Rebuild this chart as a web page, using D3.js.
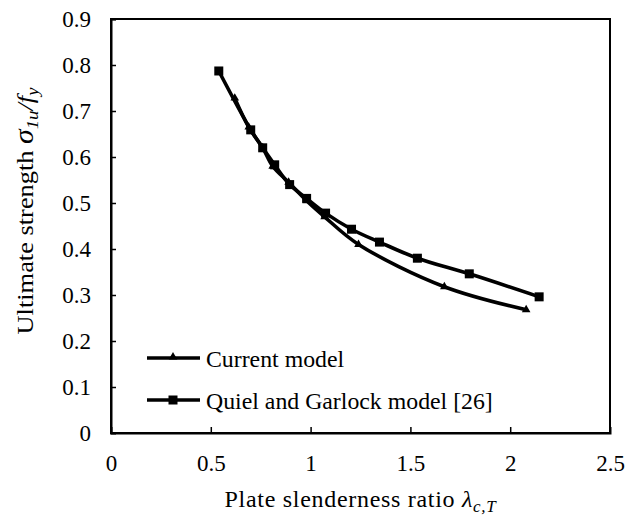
<!DOCTYPE html>
<html>
<head>
<meta charset="utf-8">
<script src="https://cdn.jsdelivr.net/npm/d3@7"></script>
<style>
  body { margin: 0; background: #fff; }
  text { font-family: "Liberation Serif", "Times New Roman", serif; fill: #000; }
</style>
</head>
<body>
<svg id="chart" width="629" height="515"></svg>
<script>
// Axis ticks
const xTicks = [0, 0.5, 1, 1.5, 2, 2.5];
const yTicks = [0, 0.1, 0.2, 0.3, 0.4, 0.5, 0.6, 0.7, 0.8, 0.9];

// Current model (triangles)
const currentX = [0.62, 0.69, 0.76, 0.81, 0.89, 0.98, 1.07, 1.24, 1.67, 2.08];
const currentY = [0.728, 0.665, 0.62, 0.58, 0.545, 0.505, 0.47, 0.41, 0.318, 0.268];

// Quiel and Garlock model [26] (squares)
const quielX = [0.54, 0.70, 0.76, 0.82, 0.895, 0.98, 1.075, 1.205, 1.345, 1.535, 1.795, 2.145];
const quielY = [0.787, 0.659, 0.62, 0.583, 0.54, 0.51, 0.478, 0.443, 0.415, 0.38, 0.346, 0.296];

const seriesNames = ["Current model", "Quiel and Garlock model [26]"];

const svg = d3.select("#chart");
const plotL = 111, plotR = 610, plotT = 19, plotB = 433;

const x = d3.scaleLinear().domain([0, 2.5]).range([plotL, plotR]);
const y = d3.scaleLinear().domain([0, 0.9]).range([plotB, plotT]);

// Plot frame
svg.append("rect")
  .attr("x", plotL).attr("y", plotT)
  .attr("width", plotR - plotL).attr("height", plotB - plotT)
  .attr("fill", "none").attr("stroke", "#000").attr("stroke-width", 2);

// Axes with inward ticks
const xAxis = svg.append("g").attr("transform", `translate(0,${plotB})`)
  .call(d3.axisBottom(x).tickValues(xTicks).tickSize(-6).tickPadding(20)
    .tickFormat(d => d3.format("")(d)));
const yAxis = svg.append("g").attr("transform", `translate(${plotL},0)`)
  .call(d3.axisLeft(y).tickValues(yTicks).tickSize(-5).tickPadding(20)
    .tickFormat(d => d3.format("")(d)));

[xAxis, yAxis].forEach(g => {
  g.attr("font-family", null).attr("font-size", null);
  g.select(".domain").attr("stroke-width", 2);
  g.selectAll(".tick line").attr("stroke", "#000").attr("stroke-width", 1.5);
  g.selectAll(".tick text").style("font-size", "23px").attr("fill", "#000");
});
xAxis.selectAll(".tick text").attr("dy", "0.71em").attr("y", 22);
yAxis.selectAll(".tick text").attr("x", -20).attr("dy", "0.34em");
// tick marks that would sit on the frame edges are dropped
xAxis.selectAll(".tick line").filter(d => d === 0 || d === 2.5).remove();
yAxis.selectAll(".tick line").filter(d => d === 0).remove();

// Series lines
const line = d3.line().x(d => x(d[0])).y(d => y(d[1])).curve(d3.curveCatmullRom.alpha(0.5));
const currentPts = currentX.map((v, i) => [v, currentY[i]]);
const quielPts = quielX.map((v, i) => [v, quielY[i]]);

svg.append("path").datum(quielPts).attr("d", line)
  .attr("fill", "none").attr("stroke", "#000").attr("stroke-width", 3.6);
svg.append("path").datum(currentPts).attr("d", line)
  .attr("fill", "none").attr("stroke", "#000").attr("stroke-width", 3.6);

const tri = d3.symbol().type(d3.symbolTriangle).size(32);
svg.selectAll(".tri").data(currentPts).join("path")
  .attr("transform", d => `translate(${x(d[0])},${y(d[1])})`)
  .attr("d", tri).attr("fill", "#000");

svg.selectAll(".sq").data(quielPts).join("rect")
  .attr("x", d => x(d[0]) - 4.5).attr("y", d => y(d[1]) - 4.5)
  .attr("width", 9).attr("height", 9).attr("fill", "#000");

// Legend
const legend = svg.append("g");
const legY = [358, 400];
legY.forEach((ly, i) => {
  legend.append("line").attr("x1", 147).attr("x2", 200).attr("y1", ly).attr("y2", ly)
    .attr("stroke", "#000").attr("stroke-width", 3.6);
  if (i === 0) {
    legend.append("path").attr("transform", `translate(173,${ly - 1})`).attr("d", tri).attr("fill", "#000");
  } else {
    legend.append("rect").attr("x", 168.5).attr("y", ly - 4.5).attr("width", 9).attr("height", 9).attr("fill", "#000");
  }
  legend.append("text").attr("x", 206).attr("y", ly + 8.5)
    .style("font-size", "23.8px").text(seriesNames[i]);
});

// X axis title
const xt = svg.append("text").attr("x", (plotL + plotR) / 2).attr("y", 507)
  .attr("text-anchor", "middle").style("font-size", "24px").attr("letter-spacing", 0.7);
xt.append("tspan").text("Plate slenderness ratio ");
xt.append("tspan").attr("font-style", "italic").text("λ");
xt.append("tspan").attr("font-style", "italic").style("font-size", "17px").attr("dy", 5).text("c,T");

// Y axis title
const yt = svg.append("text").attr("transform", `translate(33,211) rotate(-90) scale(1.1,1)`)
  .attr("text-anchor", "middle").style("font-size", "24px");
yt.append("tspan").text("Ultimate  strength ");
yt.append("tspan").attr("font-style", "italic").style("font-size", "27px").text("σ");
yt.append("tspan").attr("font-style", "italic").style("font-size", "17px").attr("dy", 5).text("1u");
yt.append("tspan").attr("font-style", "italic").attr("dy", -5).text("/");
yt.append("tspan").attr("font-style", "italic").text("f");
yt.append("tspan").attr("font-style", "italic").style("font-size", "17px").attr("dy", 5).text("y");
</script>
</body>
</html>
